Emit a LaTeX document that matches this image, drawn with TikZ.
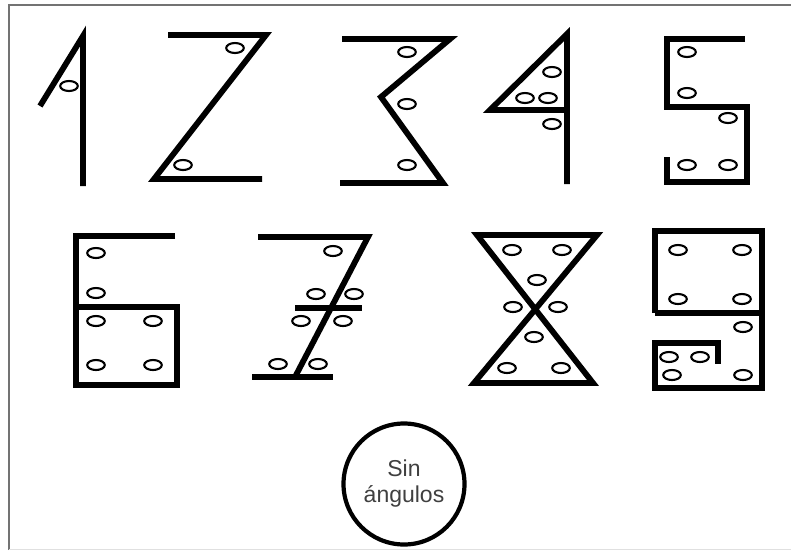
\documentclass[tikz,border=0pt]{standalone}
\usepackage{fontspec}
\setsansfont{Liberation Sans}
\begin{document}
\begin{tikzpicture}[x=1pt,y=-1pt,
  stroke/.style={line width=5.8pt,line join=miter,line cap=butt,black},
  eye/.style={line width=2.1pt,black,fill=white},
  frame/.style={line width=2pt,black!55}]
\useasboundingbox (0,0) rectangle (791,550);
\fill[white] (0,0) rectangle (791,550);
% frame
\draw[frame] (9,550) -- (9,5) -- (791,5);
\draw[line width=1pt,black!12] (9,549) -- (791,549);
\def\oval(#1,#2){\draw[eye] (#1,#2) ellipse [x radius=8.8, y radius=5];}
% 1
\draw[stroke] (83,186) -- (83,36) -- (40,106);
\oval(69,86)
% 2
\draw[stroke] (168,35) -- (266,35) -- (154,179) -- (262,179);
\oval(235,48) \oval(183,165)
% 3
\draw[stroke] (342,39) -- (450,39) -- (381,97) -- (443,183) -- (340,183);
\oval(407,52) \oval(407,104) \oval(407,165)
% 4
\draw[stroke] (567,184) -- (567,34) -- (490,110) -- (567,110);
\oval(552,72) \oval(525,98) \oval(548,98) \oval(552,124)
% 5
\draw[stroke] (745,39) -- (667,39) -- (667,107) -- (747,107) -- (747,182) -- (667,182) -- (667,157);
\oval(687,52) \oval(687,93) \oval(728,118) \oval(687,165) \oval(728,165)
% 6
\draw[stroke] (175,236) -- (76,236) -- (76,385) -- (177,385) -- (177,307) -- (76,307);
\oval(96,253) \oval(96,293) \oval(96,321) \oval(153,321) \oval(96,365) \oval(153,365)
% 7
\draw[stroke] (258,237) -- (368,237) -- (295,377);
\draw[stroke] (252,377) -- (333,377);
\draw[stroke] (295,308) -- (362,308);
\oval(333,251) \oval(316,294) \oval(354,294) \oval(301,321) \oval(343,321) \oval(278,364) \oval(318,364)
% 8
\draw[stroke] (477,235) -- (597,235) -- (474,383) -- (593,383) -- cycle;
\oval(512,250) \oval(562,250) \oval(537,280) \oval(513,307) \oval(558,307) \oval(534,337) \oval(507,368) \oval(561,368)
% 9
\draw[stroke] (655,313) -- (655,231) -- (762,231) -- (762,388) -- (655,388) -- (655,343) -- (718,343) -- (718,364);
\draw[stroke] (655,313) -- (762,313);
\oval(678,250) \oval(742,250) \oval(678,299) \oval(742,299) \oval(743,327) \oval(669,357) \oval(700,357) \oval(672,375) \oval(743,375)
% circle
\node[circle,draw,line width=4.2pt,minimum size=121pt,inner sep=0pt,align=center,
  font=\sffamily\fontsize{23}{26}\selectfont,text=black!75] (sin) at (404,484) {Sin\\ángulos};
\end{tikzpicture}
\end{document}
